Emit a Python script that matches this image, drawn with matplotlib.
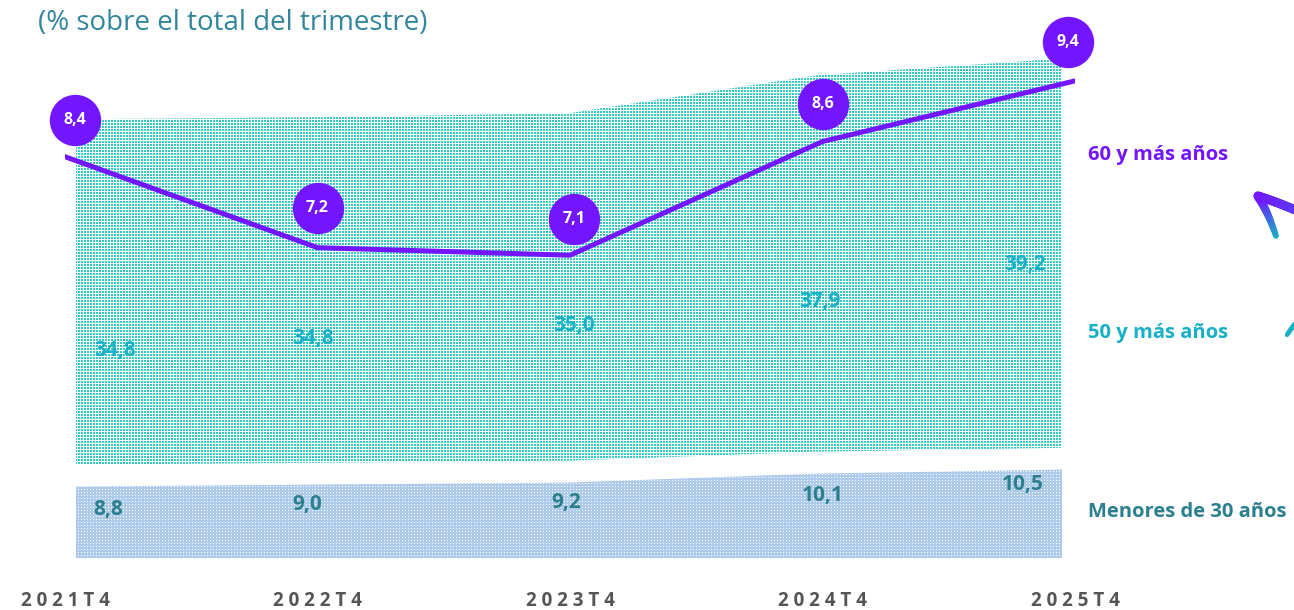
import numpy as np
import matplotlib
matplotlib.use("Agg")
import matplotlib.pyplot as plt
from matplotlib.transforms import offset_copy, IdentityTransform
from matplotlib.collections import LineCollection
from matplotlib.colors import to_rgb

plt.rcParams["font.family"] = ["Open Sans", "DejaVu Sans"]

# ==========================================================
# Datos (% sobre el total del trimestre)
# ==========================================================

periods = ["2021T4", "2022T4", "2023T4", "2024T4", "2025T4"]
menores_30 = [8.8, 9.0, 9.2, 10.1, 10.5]
mayores_50 = [34.8, 34.8, 35.0, 37.9, 39.2]
mayores_60 = [8.4, 7.2, 7.1, 8.6, 9.4]

# ==========================================================
# Estilo / layout
# ==========================================================

PURPLE = "#7316FF"
CYAN = "#17B0C6"
DARK_TEAL = "#2B7F8F"
TEAL_DOT = "#33CBC3"
BLUE_BG = "#AFCBEC"
GREY = "#555555"

gap = 2.2  # hueco blanco entre las dos areas

# posicion de las etiquetas (desplazamientos de layout)
teal_lbl_dx = [0.16, -0.04, 0.02, 0.02, -0.15]
teal_lbl_frac = [0.33, 0.36, 0.39, 0.40, 0.47]
blue_lbl_dx = [0.13, -0.06, -0.01, 0.03, -0.16]
blue_lbl_dy = [-2.35, -2.05, -2.05, -2.25, -1.45]
bub_dx = [10, 0, 4, 0, -7]
bub_dy = [37, 40, 36, 38, 39]


def fmt(v):
    return f"{v:.1f}".replace(".", ",")


W, H = 1294, 610
fig = plt.figure(figsize=(W / 100, H / 100), dpi=100)


def px_axes(left, right, bottom, top):
    # coordenadas en pixeles desde arriba a la izquierda
    return fig.add_axes([left / W, (H - bottom) / H, (right - left) / W, (bottom - top) / H])


ax = px_axes(76, 1062, 558, 0)
ax2 = px_axes(65, 1075, 558, 0)
for a in (ax, ax2):
    a.patch.set_visible(False)
    for s in a.spines.values():
        s.set_visible(False)
    a.set_yticks([])

x = np.arange(len(periods))
low = np.array(menores_30)
teal_bottom = low + gap
teal_top = teal_bottom + np.array(mayores_50)

# ==========================================================
# Areas con trama de puntos
# ==========================================================

blue_poly = ax.fill_between(x, 0, low, facecolor="none", edgecolor="none")
teal_poly = ax.fill_between(x, teal_bottom, teal_top, facecolor="none", edgecolor="none")
ax.set_xlim(0, len(periods) - 1)
ax.set_ylim(1.6, 57.8)
ax.set_xticks([])

yy, xx = np.mgrid[0:H, 0:W]
teal_pat = np.ones((H, W, 4))
teal_pat[(xx % 3 < 2) & (yy % 3 < 2), :3] = to_rgb(TEAL_DOT)
blue_pat = np.ones((H, W, 4))
blue_pat[..., :3] = to_rgb(BLUE_BG)
blue_pat[(xx % 3 == 0) & (yy % 3 == 0), :3] = 1.0

for pat, poly in ((teal_pat, teal_poly), (blue_pat, blue_poly)):
    im = fig.figimage(pat, 0, 0, origin="upper", zorder=-1)
    im.set_clip_path(poly.get_paths()[0], ax.transData)
    im.set_clip_box(ax.bbox)

for i in range(len(periods)):
    ty = teal_bottom[i] + teal_lbl_frac[i] * mayores_50[i]
    ax.text(x[i] + teal_lbl_dx[i], ty, fmt(mayores_50[i]), color=CYAN,
            fontsize=15, fontweight="bold", ha="center", va="center", clip_on=False)
    ax.text(x[i] + blue_lbl_dx[i], low[i] + blue_lbl_dy[i], fmt(menores_30[i]),
            color=DARK_TEAL, fontsize=15, fontweight="bold", ha="center", va="center",
            clip_on=False)

# ==========================================================
# Linea 60 y mas anos
# ==========================================================

ax2.plot(x, mayores_60, color=PURPLE, lw=3.6, solid_capstyle="round", zorder=3)
ax2.set_xlim(0, len(periods) - 1)
ax2.set_ylim(3.106, 10.467)

for i, v in enumerate(mayores_60):
    tr = offset_copy(ax2.transData, fig=fig, x=bub_dx[i], y=bub_dy[i], units="dots")
    ax2.plot(x[i], v, "o", ms=37, color=PURPLE, mec="none", transform=tr,
             clip_on=False, zorder=4)
    ax2.text(x[i], v, fmt(v), transform=tr, color="white", fontsize=11.5,
             fontweight="bold", ha="center", va="center", zorder=5)

ax2.set_xticks(x, [" ".join(p) for p in periods])
ax2.tick_params(axis="x", length=0, pad=24, labelsize=13.5, labelcolor=GREY)
for t in ax2.get_xticklabels():
    t.set_fontweight("bold")

# ==========================================================
# Textos
# ==========================================================

fig.text(38 / W, 1 - 23 / H, "(% sobre el total del trimestre)", color="#31859C",
         fontsize=20, ha="left", va="center")
fig.text(1088 / W, 1 - 155 / H, "60 y más años", color=PURPLE, fontsize=14.5,
         fontweight="bold", ha="left", va="center")
fig.text(1088 / W, 1 - 333 / H, "50 y más años", color=CYAN, fontsize=14.5,
         fontweight="bold", ha="left", va="center")
fig.text(1088 / W, 1 - 512 / H, "Menores de 30 años", color=DARK_TEAL, fontsize=14.5,
         fontweight="bold", ha="left", va="center")

# ==========================================================
# Flechas decorativas (cortadas en el borde)
# ==========================================================


def grad_stroke(p0, p1, p2, c0, c1, w0, w1, n=40):
    t = np.linspace(0, 1, n)[:, None]
    p0, p1, p2 = (np.array(p, float) for p in (p0, p1, p2))
    pts = (1 - t) ** 2 * p0 + 2 * (1 - t) * t * p1 + t ** 2 * p2
    pts[:, 1] = H - pts[:, 1]
    segs = np.stack([pts[:-1], pts[1:]], axis=1)
    c0, c1 = np.array(to_rgb(c0)), np.array(to_rgb(c1))
    tt = np.linspace(0, 1, n - 1)[:, None]
    cols = (1 - tt) * c0 + tt * c1
    widths = np.linspace(w0, w1, n - 1)
    lc = LineCollection(segs, colors=cols, linewidths=widths, capstyle="round",
                        transform=IdentityTransform())
    fig.add_artist(lc)


grad_stroke((1276, 236), (1268, 212), (1258, 196), CYAN, PURPLE, 4, 6.5)
grad_stroke((1258, 196), (1280, 203), (1302, 213), PURPLE, "#5A3CF0", 6.5, 6.5)
grad_stroke((1287, 335), (1292, 327), (1300, 318), CYAN, CYAN, 3, 3.5)

plt.savefig("out.png", dpi=100)
